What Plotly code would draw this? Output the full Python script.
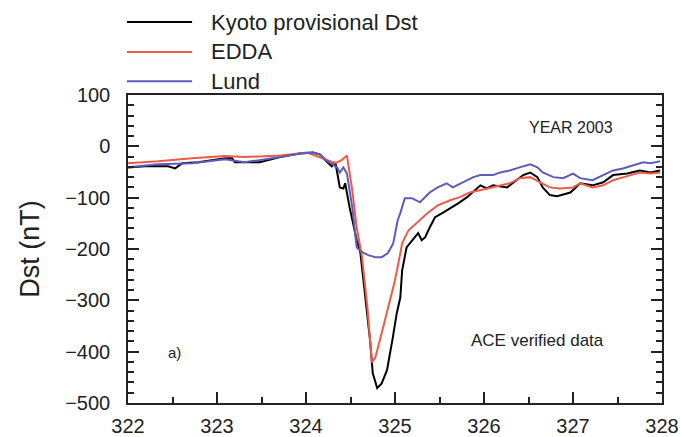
import plotly.graph_objects as go

# Kyoto provisional Dst (day of year 2003, nT)
kyoto_t = [322.00, 322.19, 322.45, 322.53, 322.61, 322.79, 322.94, 323.09, 323.17, 323.20,
           323.31, 323.48, 323.71, 323.93, 324.08, 324.16, 324.24, 324.29, 324.33, 324.38,
           324.42, 324.44, 324.49, 324.57, 324.61, 324.66, 324.72, 324.75, 324.80, 324.85,
           324.91, 324.97, 325.02, 325.06, 325.08, 325.13, 325.20, 325.26, 325.30, 325.34,
           325.39, 325.45, 325.54, 325.62, 325.71, 325.81, 325.92, 325.96, 326.03, 326.10,
           326.26, 326.37, 326.44, 326.52, 326.60, 326.66, 326.74, 326.82, 326.93, 326.97,
           327.02, 327.08, 327.22, 327.34, 327.45, 327.61, 327.75, 327.87, 327.98]
kyoto_dst = [-41, -39, -39, -43, -33, -31, -27, -23, -23, -31,
             -31, -31, -21, -14, -12, -16, -31, -39, -31, -80,
             -82, -72, -119, -183, -206, -286, -378, -442, -471, -462,
             -436, -378, -325, -294, -242, -197, -183, -169, -183, -177,
             -158, -138, -129, -121, -111, -99, -82, -76, -82, -76,
             -80, -66, -56, -51, -60, -80, -95, -97, -92, -90,
             -82, -72, -76, -70, -56, -53, -47, -51, -47]

# EDDA prediction
edda_t = [322.00, 322.34, 322.72, 323.09, 323.31, 323.71, 324.01, 324.19, 324.33, 324.40,
          324.46, 324.52, 324.57, 324.63, 324.69, 324.74, 324.78, 324.85, 324.92, 325.00,
          325.06, 325.08, 325.15, 325.25, 325.36, 325.48, 325.62, 325.73, 325.84, 325.99,
          326.15, 326.29, 326.40, 326.52, 326.63, 326.74, 326.85, 327.00, 327.08, 327.22,
          327.34, 327.45, 327.61, 327.75, 327.87, 327.98]
edda_dst = [-33, -29, -23, -19, -21, -18, -12, -23, -33, -27,
            -18, -86, -158, -216, -314, -421, -411, -364, -314, -261,
            -208, -189, -164, -148, -131, -115, -105, -99, -90, -84,
            -78, -72, -62, -60, -70, -80, -82, -80, -72, -80,
            -76, -66, -58, -51, -53, -51]

# Lund prediction
lund_t = [322.00, 322.34, 322.72, 323.09, 323.31, 323.71, 323.93, 324.08, 324.16, 324.24,
          324.35, 324.38, 324.42, 324.46, 324.52, 324.57, 324.63, 324.70, 324.78, 324.85,
          324.92, 324.98, 325.03, 325.06, 325.11, 325.19, 325.28, 325.39, 325.48, 325.58,
          325.65, 325.76, 325.88, 325.96, 326.10, 326.18, 326.29, 326.40, 326.52, 326.60,
          326.66, 326.78, 326.89, 327.00, 327.08, 327.22, 327.34, 327.45, 327.56, 327.67,
          327.79, 327.87, 327.98]
lund_dst = [-41, -35, -33, -25, -31, -21, -14, -12, -16, -29,
            -41, -51, -41, -53, -119, -197, -206, -212, -216, -216,
            -208, -189, -144, -130, -101, -101, -109, -90, -80, -72,
            -80, -70, -60, -56, -56, -51, -47, -41, -35, -41,
            -51, -60, -62, -53, -62, -66, -56, -47, -43, -37,
            -31, -33, -29]

series_names = ["Kyoto provisional Dst", "EDDA", "Lund"]
series_colors = ["#000000", "#ef5a48", "#5c5cbc"]

FONT = "Liberation Sans, Arial, sans-serif"

fig = go.Figure()
for t, v, name, col in zip([kyoto_t, edda_t, lund_t], [kyoto_dst, edda_dst, lund_dst],
                           series_names, series_colors):
    fig.add_trace(go.Scatter(x=t, y=v, mode="lines", name=name,
                             line=dict(color=col, width=2), showlegend=False))

# hand-drawn legend above the plot area
legend_y = [1.237, 1.140, 1.045]
for name, col, ly in zip(series_names, series_colors, legend_y):
    fig.add_shape(type="line", xref="paper", yref="paper", x0=-0.002, x1=0.120,
                  y0=ly, y1=ly, line=dict(color=col, width=2))
    fig.add_annotation(xref="paper", yref="paper", x=0.152, y=ly, text=name,
                       showarrow=False, xanchor="left", yanchor="middle",
                       font=dict(family=FONT, size=22, color="#222"))

fig.add_annotation(x=326.98, y=37, text="YEAR 2003", showarrow=False,
                   font=dict(family=FONT, size=16, color="#222"))
fig.add_annotation(x=326.60, y=-378, text="ACE verified data", showarrow=False,
                   font=dict(family=FONT, size=17, color="#222"))
fig.add_annotation(x=322.52, y=-401, text="a)", showarrow=False,
                   font=dict(family=FONT, size=15, color="#222"))

fig.update_xaxes(range=[322, 328], tickvals=[322, 323, 324, 325, 326, 327, 328],
                 ticks="inside", ticklen=11, tickwidth=1.5, tickcolor="#222",
                 minor=dict(dtick=0.5, ticks="inside", ticklen=6, tickwidth=1.5, tickcolor="#222"),
                 showline=True, linecolor="#222", linewidth=1.5, mirror=True,
                 showgrid=False, zeroline=False, automargin=False, ticklabelstandoff=4,
                 tickfont=dict(family=FONT, size=20, color="#222"))
fig.update_yaxes(range=[-500, 100], dtick=100, tick0=0,
                 ticks="inside", ticklen=11, tickwidth=1.5, tickcolor="#222",
                 minor=dict(dtick=20, ticks="inside", ticklen=6, tickwidth=1.5, tickcolor="#222"),
                 showline=True, linecolor="#222", linewidth=1.5, mirror="ticks",
                 showgrid=False, zeroline=False, automargin=False, ticklabelstandoff=12,
                 tickfont=dict(family=FONT, size=20, color="#222"),
                 title=dict(text="Dst (nT)", font=dict(family=FONT, size=27, color="#222"),
                            standoff=18))

fig.update_layout(width=681, height=437,
                  margin=dict(l=128, r=19, t=95, b=34),
                  paper_bgcolor="white", plot_bgcolor="white")

fig.write_html("out.html")
